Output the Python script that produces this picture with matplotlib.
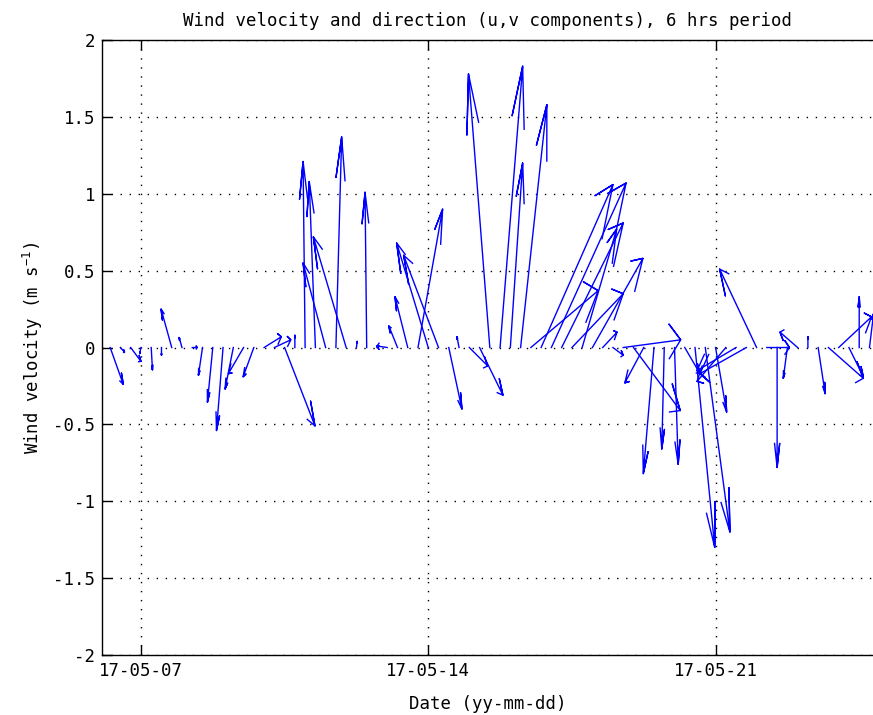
import numpy as np
import matplotlib
matplotlib.use('Agg')
import matplotlib.pyplot as plt
import matplotlib.dates as mdates
from matplotlib.ticker import FuncFormatter
from datetime import datetime, timedelta

plt.rcParams['font.family'] = 'DejaVu Sans Mono'
plt.rcParams['mathtext.fontset'] = 'custom'
plt.rcParams['mathtext.rm'] = 'DejaVu Sans Mono'
plt.rcParams['mathtext.it'] = 'DejaVu Sans Mono'
plt.rcParams['axes.unicode_minus'] = False

# 6-hourly wind components (m/s), first sample 2017-05-06 06:00
start = datetime(2017, 5, 6, 6)
step_hours = 6
u = [0.32, 0.10, 0.25, -0.03, 0.03, 0.00, -0.26, -0.07, 0.12, -0.10,
     -0.13, -0.16, -0.20, -0.37, -0.26, 0.42, 0.40, 0.74, 0.00, -0.05,
     -0.15, -0.55, 0.14, -0.80, 0.02, -0.04, 0.05, -0.25, -0.21, -0.31,
     0.60, -0.77, -0.85, 0.32, -0.05, 0.45, 0.57, -0.52, 0.55, 0.30,
     0.64, 1.64, 1.75, 1.82, 1.50, 1.25, 0.84, 1.23, 0.35, 0.25,
     1.40, 1.14, -0.46, -0.26, -0.06, 0.09, 0.37, 0.48, 0.60, 0.27,
     -0.70, -0.95, -1.13, -0.90, 0.55, 0.00, -0.10, -0.43, 0.00, 0.17,
     0.85, 0.80, 0.35, 0.00, 0.10]
v = [-0.24, -0.03, -0.09, -0.04, -0.145, -0.05, 0.25, 0.065, 0.00, -0.18,
     -0.355, -0.54, -0.27, -0.17, -0.19, 0.07, 0.05, -0.51, 0.08, 1.21,
     1.08, 0.55, 1.37, 0.72, 0.04, 1.01, 0.01, 0.01, 0.14, 0.33,
     0.90, 0.68, 0.60, -0.40, 0.07, -0.12, -0.31, 1.78, 1.83, 1.20,
     1.58, 0.37, 1.06, 1.07, 0.81, 0.35, 0.77, 0.58, 0.10, -0.05,
     0.05, -0.41, -0.23, -0.82, -0.66, -0.76, -0.17, -1.30, -1.20, -0.42,
     -0.22, -0.15, -0.17, 0.51, 0.00, -0.78, -0.20, 0.10, 0.07, -0.30,
     -0.20, 0.20, -0.19, 0.33, 0.22]

times = [start + timedelta(hours=step_hours * i) for i in range(len(u))]
date_ticks = [datetime(2017, 5, 7), datetime(2017, 5, 14), datetime(2017, 5, 21)]
y_ticks = [-2, -1.5, -1, -0.5, 0, 0.5, 1, 1.5, 2]

fig = plt.figure(figsize=(8.73, 7.15), dpi=100)
ax = fig.add_axes([0.1168, 0.0839, 0.8832, 0.8601])

# feather arrows: shaft plus head, built as complex shape scaled by u+iv
xx = np.array([0, 1, .8, 1, .8])
yy = np.array([0, 0, .08, 0, -.08])
arrow = xx + 1j * yy
tnum = mdates.date2num(times)
for t, uu, vv in zip(tnum, u, v):
    a = arrow * complex(uu, vv) + t
    ax.plot(a.real, a.imag, color='blue', lw=1.0)

ax.set_xlim(datetime(2017, 5, 6, 1, 12), datetime(2017, 5, 24, 20, 4))
ax.set_ylim(-2, 2)
ax.set_xticks(date_ticks)
ax.xaxis.set_major_formatter(mdates.DateFormatter('%y-%m-%d'))
ax.set_yticks(y_ticks)
ax.yaxis.set_major_formatter(FuncFormatter(lambda y, p: '%g' % y))

ax.grid(True, color='black', linestyle=(0, (1, 5.5)), lw=1.0)
ax.tick_params(direction='in', length=7, width=1, top=True, right=False,
               labelsize=12.5, pad=5)
ax.spines['right'].set_visible(False)
for s in ['left', 'top', 'bottom']:
    ax.spines[s].set_linewidth(1.0)

ax.set_title('Wind velocity and direction (u,v components), 6 hrs period',
             fontsize=12.5, pad=10)
ax.set_xlabel('Date (yy-mm-dd)', fontsize=12.5, labelpad=11)
ax.set_ylabel('Wind velocity (m s$^{-1}$)', fontsize=12.5, labelpad=6)

fig.savefig('out.png', dpi=100)
